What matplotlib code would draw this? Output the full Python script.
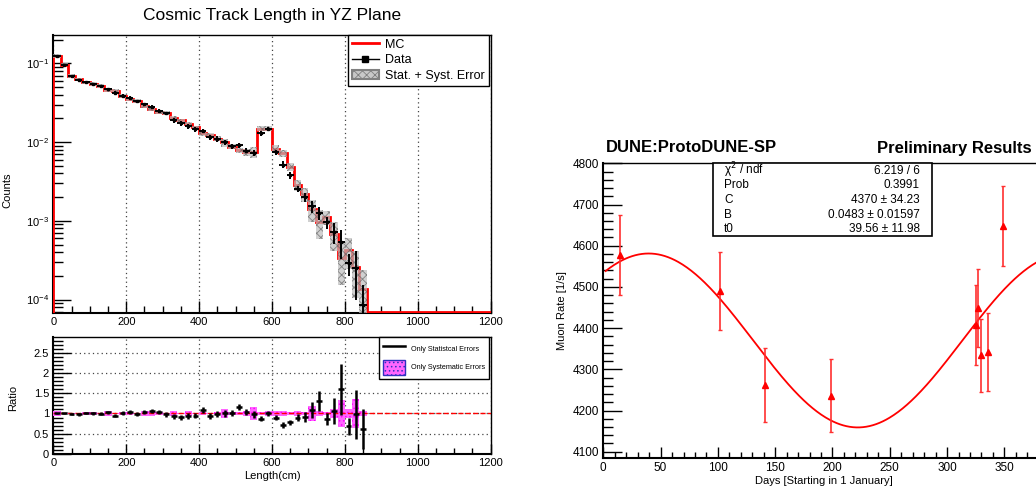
import numpy as np
import matplotlib
matplotlib.use('Agg')
import matplotlib.pyplot as plt
from matplotlib.patches import Rectangle
from matplotlib.lines import Line2D
from matplotlib.ticker import MultipleLocator, LogLocator, NullFormatter

plt.rcParams['font.family'] = ['Liberation Sans', 'DejaVu Sans']
plt.rcParams['hatch.linewidth'] = 0.6

W, H = 1036, 486

# track length histogram, 20 cm bins from 0 to 860 cm, normalised counts
bin_edges = np.arange(0, 880, 20)
mc_counts = [0.124, 0.097, 0.069, 0.0627, 0.0574, 0.0551, 0.0515, 0.0458, 0.0449, 0.0385,
             0.0356, 0.0332, 0.0292, 0.0265, 0.0243, 0.0236, 0.0204, 0.0190, 0.0169, 0.0154,
             0.0129, 0.0125, 0.0111, 0.0099, 0.0088, 0.0079, 0.0075, 0.0075,
             0.0149, 0.0149, 0.0083, 0.0072, 0.00485,
             0.00284, 0.00218, 0.0014, 0.00097, 0.00112, 0.00069, 0.00034, 0.00042, 0.00026, 0.000138]
data_ratio = [1.0, 1.0, 0.99, 0.98, 1.01, 1.0, 0.99, 1.03, 0.95, 1.01,
              1.03, 0.99, 1.04, 1.06, 1.03, 0.98, 0.93, 0.91, 0.94, 0.95,
              1.08, 0.93, 0.99, 1.0, 1.01, 1.16, 1.04, 0.98,
              0.87, 1.0, 0.9, 0.72, 0.78,
              0.9, 0.92, 1.09, 1.31, 0.86, 1.06, 1.6, 0.69, 0.98, 0.62]
ratio_stat_err = [0.02, 0.02, 0.03, 0.03, 0.03, 0.03, 0.035, 0.035, 0.04, 0.04,
                  0.045, 0.045, 0.05, 0.05, 0.055, 0.055, 0.06, 0.06, 0.065, 0.065,
                  0.07, 0.07, 0.075, 0.075, 0.08, 0.08, 0.08, 0.08,
                  0.06, 0.06, 0.07, 0.07, 0.07,
                  0.08, 0.12, 0.19, 0.24, 0.15, 0.32, 0.63, 0.21, 0.6, 0.5]
ratio_syst_err = [0.05, 0.02, 0.02, 0.02, 0.03, 0.04, 0.02, 0.05, 0.02, 0.03,
                  0.03, 0.02, 0.07, 0.07, 0.04, 0.02, 0.05, 0.02, 0.07, 0.02,
                  0.03, 0.02, 0.03, 0.11, 0.03, 0.04, 0.05, 0.15,
                  0.04, 0.05, 0.05, 0.05, 0.03,
                  0.05, 0.04, 0.18, 0.06, 0.04, 0.12, 0.33, 0.1, 0.36, 0.05]
band_rel_err = [0.06, 0.05, 0.05, 0.05, 0.05, 0.06, 0.05, 0.06, 0.05, 0.05,
                0.05, 0.05, 0.07, 0.07, 0.06, 0.05, 0.06, 0.05, 0.08, 0.05,
                0.06, 0.06, 0.08, 0.12, 0.07, 0.08, 0.1, 0.15,
                0.08, 0.08, 0.1, 0.1, 0.12,
                0.16, 0.2, 0.3, 0.4, 0.2, 0.4, 0.55, 0.42, 0.6, 0.7]

# muon rate vs day of year
days = [14.7, 101.7, 141.5, 198.3, 325.4, 326.8, 329.7, 336.0, 348.5]
rate = [4577, 4490, 4262, 4236, 4407, 4449, 4334, 4342, 4648]
rate_err = [97, 94, 89, 88, 97, 94, 89, 94, 97]
fit_C, fit_B, fit_t0 = 4370, 0.0483, 39.56
stat_labels = [u'\u03c7$^{2}$ / ndf', 'Prob', 'C', 'B', 't0']
stat_values = ['6.219 / 6', '0.3991', u'4370 \u00b1 34.23', u'0.0483 \u00b1 0.01597', u'39.56 \u00b1 11.98']

GRID_LS = (0, (1, 2.5))


def fx(x):
    return x / W


def fy(y):
    return 1 - y / H


def style_ticks(ax, xmaj, ymaj, xmin_len, ymin_len):
    ax.tick_params(which='both', direction='in', top=False, right=False, labelsize=8, pad=3)
    ax.tick_params(axis='x', which='major', length=xmaj, width=1)
    ax.tick_params(axis='x', which='minor', length=xmin_len, width=1)
    ax.tick_params(axis='y', which='major', length=ymaj, width=1)
    ax.tick_params(axis='y', which='minor', length=ymin_len, width=1)
    for s in ax.spines.values():
        s.set_linewidth(1.0)
    ax.spines['left'].set_linewidth(1.5)
    ax.spines['bottom'].set_linewidth(1.5)


def main():
    fig = plt.figure(figsize=(W / 100, H / 100), dpi=100)

    edges = bin_edges
    centers = 0.5 * (edges[:-1] + edges[1:])
    mc = np.array(mc_counts)
    ratio = np.array(data_ratio)
    data = mc * ratio
    data_err = mc * np.array(ratio_stat_err)
    ymin = 6.8e-5

    # ---- top: track length spectrum ----
    ax = fig.add_axes([fx(53.3), fy(312.7), fx(490.7) - fx(53.3), fy(35) - fy(312.7)])
    ax.set_yscale('log')
    ax.set_xlim(0, 1200)
    ax.set_ylim(ymin, 0.23)
    full_edges = np.append(edges, 1200)
    ax.stairs(np.maximum(np.append(mc, 0), ymin * 1.02), full_edges, color='red', lw=2, zorder=3)
    for i in range(len(mc)):
        lo = mc[i] * (1 - band_rel_err[i])
        hi = mc[i] * (1 + band_rel_err[i])
        ax.add_patch(Rectangle((edges[i], lo), 20, hi - lo, facecolor='#bdbdbd', edgecolor='#606060',
                               hatch='xxxx', lw=0, alpha=0.7, zorder=4))
    ax.errorbar(centers, data, xerr=10, yerr=data_err, fmt='s', ms=1.6, color='black',
                elinewidth=1.4, capsize=0, zorder=5)
    ax.xaxis.set_major_locator(MultipleLocator(200))
    ax.xaxis.set_minor_locator(MultipleLocator(50))
    ax.yaxis.set_major_locator(LogLocator(base=10))
    ax.yaxis.set_minor_locator(LogLocator(base=10, subs=np.arange(2, 10)))
    ax.yaxis.set_minor_formatter(NullFormatter())
    ax.grid(axis='x', which='major', ls=GRID_LS, color='#444444', lw=0.9)
    style_ticks(ax, 9, 13, 5, 7)
    ax.set_ylabel('Counts', fontsize=8)
    ax.yaxis.set_label_coords(-0.094, 0.44)
    ax.set_title('Cosmic Track Length in YZ Plane', fontsize=12.5, pad=11)

    h_mc = Line2D([], [], color='red', lw=2)
    h_data = Line2D([], [], color='black', lw=1, marker='s', ms=4)
    h_band = Rectangle((0, 0), 1, 1, facecolor='#c8c8c8', edgecolor='#808080', hatch='xxxx', lw=1.5)
    leg = ax.legend([h_mc, h_data, h_band], ['MC', 'Data', 'Stat. + Syst. Error'],
                    loc='upper right', bbox_to_anchor=(0.996, 1.0), fontsize=9, fancybox=False,
                    edgecolor='black', framealpha=1, handlelength=2.2, handletextpad=0.5,
                    labelspacing=0.3, borderpad=0.3, borderaxespad=0)
    leg.get_frame().set_linewidth(1.0)

    # ---- bottom: data / MC ratio ----
    rx = fig.add_axes([fx(53.3), fy(454), fx(490.7) - fx(53.3), fy(337.3) - fy(454)])
    rx.set_xlim(0, 1200)
    rx.set_ylim(0, 2.88)
    for i in range(len(mc)):
        e = ratio_syst_err[i]
        rx.add_patch(Rectangle((edges[i], 1 - e), 20, 2 * e, facecolor='#ff66ff', edgecolor='#ff00ff',
                               hatch='....', lw=0, zorder=3))
    rx.axhline(1, color='red', ls='--', lw=1, zorder=4)
    rx.errorbar(centers, ratio, xerr=8, yerr=ratio_stat_err, fmt='none', ecolor='black',
                elinewidth=1.8, capsize=0, zorder=5)
    rx.xaxis.set_major_locator(MultipleLocator(200))
    rx.xaxis.set_minor_locator(MultipleLocator(50))
    rx.yaxis.set_major_locator(MultipleLocator(0.5))
    rx.yaxis.set_minor_locator(MultipleLocator(0.1))
    rx.grid(which='major', ls=GRID_LS, color='#444444', lw=0.9)
    style_ticks(rx, 7, 13, 4, 7)
    rx.set_yticks([0, 0.5, 1, 1.5, 2, 2.5])
    rx.set_yticklabels(['0', '0.5', '1', '1.5', '2', '2.5'])
    rx.set_ylabel('Ratio', fontsize=8)
    rx.yaxis.set_label_coords(-0.081, 0.484)
    rx.set_xlabel('Length(cm)', fontsize=8, labelpad=2)

    h_stat = Line2D([], [], color='black', lw=1.8)
    h_syst = Rectangle((0, 0), 1, 1, facecolor='#ff66ff', edgecolor='#3030c0', hatch='....', lw=1)
    leg2 = rx.legend([h_stat, h_syst], ['Only Statistcal Errors', 'Only Systematic Errors'],
                     loc='upper right', bbox_to_anchor=(0.996, 1.0), fontsize=5.2, fancybox=False,
                     edgecolor='black', framealpha=1, handlelength=3.0, handleheight=2.8,
                     handletextpad=0.8, labelspacing=0.5, borderpad=0.55, borderaxespad=0)
    leg2.get_frame().set_linewidth(1.0)

    # ---- right: muon rate vs time ----
    mx = fig.add_axes([fx(603.3), fy(458.3), fx(1044.5) - fx(603.3), fy(163.3) - fy(458.3)])
    mx.set_xlim(0, 385)
    mx.set_ylim(4084, 4800)
    t = np.linspace(2, 385, 400)
    mx.plot(t, fit_C * (1 + fit_B * np.cos(2 * np.pi * (t - fit_t0) / 365.0)), color='red', lw=1.3)
    mx.errorbar(days, rate, yerr=rate_err, fmt='^', ms=5, color='red', ecolor='#ff3030',
                elinewidth=1.2, capsize=1.5, capthick=1)
    mx.xaxis.set_major_locator(MultipleLocator(50))
    mx.xaxis.set_minor_locator(MultipleLocator(10))
    mx.yaxis.set_major_locator(MultipleLocator(100))
    mx.yaxis.set_minor_locator(MultipleLocator(20))
    style_ticks(mx, 8, 14, 4, 7)
    mx.tick_params(labelsize=8.5)
    mx.set_ylabel('Muon Rate [1/s]', fontsize=8)
    mx.set_xlabel('Days [Starting in 1 January]', fontsize=8, labelpad=1)

    # stats box
    fig.add_artist(Rectangle((fx(713.3), fy(236)), fx(931.7) - fx(713.3), fy(163.3) - fy(236),
                             transform=fig.transFigure, facecolor='white', edgecolor='black', lw=1.2))
    row_y = [170.5, 185, 200, 214.5, 229]
    for lab, val, yy in zip(stat_labels, stat_values, row_y):
        fig.text(fx(724), fy(yy), lab, fontsize=8.5, va='center', ha='left')
        fig.text(fx(920), fy(yy), val, fontsize=8.5, va='center', ha='right')

    fig.text(fx(605.7), fy(148), 'DUNE:ProtoDUNE-SP', fontsize=12, weight='bold', va='center')
    fig.text(fx(1032), fy(148), 'Preliminary Results', fontsize=12, weight='bold', va='center', ha='right')

    fig.savefig('out.png', dpi=100)
    plt.close(fig)


if __name__ == '__main__':
    main()
